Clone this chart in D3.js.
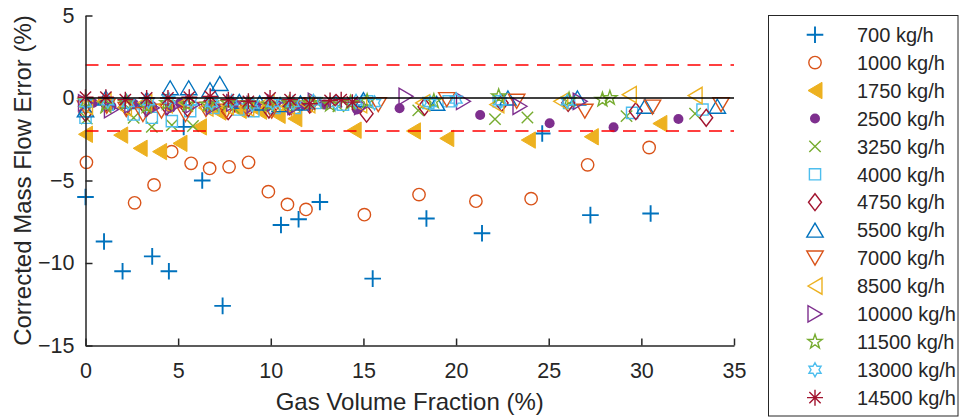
<!DOCTYPE html>
<html>
<head>
<meta charset="utf-8">
<script src="https://cdn.jsdelivr.net/npm/d3@7"></script>
<style>
  body { margin: 0; background: #fff; }
  svg { display: block; font-family: "Liberation Sans", Arial, sans-serif; }
</style>
</head>
<body>
<div id="chart"></div>
<script>
// [GVF %, corrected mass flow error %] for each flow rate
const s700 = [[0, -6.0], [1.0, -8.7], [2.0, -10.5], [3.6, -9.6], [4.5, -10.5], [5.3, -1.75], [6.3, -5.0],
  [7.4, -12.6], [10.55, -7.7], [11.5, -7.35], [12.65, -6.3], [15.5, -10.95], [18.4, -7.3], [21.4, -8.2],
  [24.65, -2.15], [27.25, -7.1], [30.5, -7.0]];
const s1000 = [[0.05, -3.9], [2.65, -6.35], [3.7, -5.27], [4.65, -3.25], [5.7, -3.96], [6.7, -4.27], [7.75, -4.17],
  [8.8, -3.9], [9.87, -5.68], [10.9, -6.45], [11.9, -6.75], [15.05, -7.07], [18.0, -5.85], [21.07, -6.25],
  [24.05, -6.1], [27.1, -4.05], [30.42, -3.0]];
const s1750 = [[0, -2.2], [1.9, -2.25], [2.95, -3.05], [4.0, -3.25], [5.1, -2.75], [6.15, -1.75], [7.2, -0.85],
  [8.3, -0.75], [9.4, -0.8], [10.4, -1.05], [11.3, -1.25], [14.5, -1.95], [17.7, -2.0], [19.5, -2.45],
  [23.9, -2.55], [27.3, -2.35], [31.0, -1.55]];
const s2500 = [[0.4, -0.3], [1.4, -0.5], [2.6, -0.35], [3.6, -0.5], [4.6, -0.6], [5.1, -0.3], [6.8, -0.5],
  [8.0, -0.4], [9.2, -0.45], [10.9, -0.4], [11.6, -0.5], [12.9, -0.4], [14.65, -0.7], [16.95, -0.62],
  [21.3, -1.03], [25.05, -1.53], [28.5, -1.78], [32.0, -1.27]];
const s3250 = [[0.07, -1.25], [1.1, -0.6], [2.6, -1.2], [3.58, -1.75], [4.66, -1.65], [5.8, -1.7], [6.9, -0.5],
  [8.0, -0.6], [9.1, -0.5], [10.2, -0.4], [11.3, -0.5], [12.5, -0.3], [13.65, -0.5], [17.96, -0.75],
  [22.1, -1.28], [23.85, -1.18], [29.2, -1.1], [32.9, -0.95]];
const s4000 = [[0, -1.2], [1.2, -0.4], [2.6, -1.0], [3.58, -1.2], [4.66, -1.4], [5.65, -0.8], [6.9, -0.6],
  [8.25, -0.7], [9.06, -0.8], [10.2, -0.6], [11.3, -0.6], [12.4, -0.3], [13.9, -0.4], [15.2, -0.2],
  [18.5, -0.3], [19.6, -0.2], [22.3, -0.2], [26.1, -0.3], [29.5, -0.9], [33.3, -0.7]];
const s4750 = [[0, -0.9], [1.1, -0.3], [2.2, -0.5], [3.3, -0.6], [4.4, -0.5], [5.5, -0.6], [6.6, -0.4],
  [7.7, -0.8], [8.8, -0.6], [9.9, -0.7], [11.0, -0.5], [12.1, -0.4], [15.17, -0.95], [18.3, -0.53],
  [22.46, -0.3], [26.05, -0.3], [29.7, -0.8], [33.5, -1.2]];
const s5500 = [[0, -0.72], [1.1, 0], [2.2, -0.2], [3.3, -0.1], [4.57, 0.62], [5.57, 0.62], [6.72, 0.5],
  [7.25, 0.88], [8.3, -0.2], [9.4, -0.3], [10.5, -0.4], [11.6, -0.3], [15.0, -0.1], [18.95, -0.32],
  [22.8, 0], [26.55, 0], [30.2, -0.5], [34.1, -0.5]];
const s7000 = [[0, -0.6], [1.15, -0.5], [2.2, -0.7], [3.1, -1.0], [4.1, -0.8], [5.4, -1.0], [6.5, -0.7],
  [7.6, -0.8], [8.7, -0.6], [10.05, -0.8], [11.1, -0.6], [12.2, -0.4], [15.8, -0.4], [19.5, -0.1],
  [23.27, -0.2], [26.95, -0.8], [30.6, -0.55], [34.3, -0.4]];
const s8500 = [[0, -0.5], [1.0, -0.2], [2.1, -0.6], [3.2, -0.3], [4.3, -0.4], [5.4, -0.3], [6.5, -0.6],
  [7.6, -0.5], [8.7, -0.6], [9.8, -0.3], [10.9, -0.5], [12.0, -0.4], [14.8, -0.4], [18.2, -0.3],
  [22.2, -0.4], [25.65, -0.2], [29.35, 0.2], [32.9, 0.15]];
const s10000 = [[0, -0.3], [1.4, -0.7], [2.5, -0.4], [3.6, -0.6], [4.7, -0.5], [5.8, -0.4], [6.9, -0.5],
  [8.0, -0.3], [9.1, -0.4], [10.2, -0.3], [11.3, -0.5], [12.4, -0.2], [14.9, -0.5], [17.3, 0.1],
  [20.4, -0.2], [23.45, -0.5], [26.7, -0.2]];
const s11500 = [[0, -0.2], [1.1, -0.4], [2.2, -0.3], [3.3, -0.5], [4.4, -0.3], [5.5, -0.4], [6.6, -0.4],
  [7.7, -0.3], [8.8, -0.3], [9.9, -0.4], [11.0, -0.3], [12.1, -0.3], [13.2, -0.4], [14.3, -0.3],
  [15.2, -0.2], [18.8, -0.2], [22.3, 0.1], [26.1, -0.1], [27.9, -0.1], [28.3, 0]];
const s13000 = [[0, -0.3], [1.2, -0.2], [2.3, -0.3], [3.4, -0.2], [4.5, -0.1], [5.7, -0.2], [6.8, -0.3],
  [7.9, -0.2], [9.0, -0.4], [10.1, -0.3], [11.2, -0.3], [12.3, -0.2], [13.5, -0.3], [14.6, -0.2],
  [15.6, -0.3], [18.6, -0.3], [20.0, -0.1], [22.4, -0.2], [26.0, -0.2]];
const s14500 = [[0, 0.05], [1.1, 0.05], [2.15, -0.1], [3.3, 0], [4.45, 0], [5.6, 0.05], [6.73, 0.1],
  [7.71, -0.1], [8.79, -0.2], [9.96, 0], [11.04, -0.1], [12.1, -0.35], [13.2, -0.15], [13.8, -0.1],
  [14.4, -0.25]];

const flowLabels = ['700 kg/h', '1000 kg/h', '1750 kg/h', '2500 kg/h', '3250 kg/h', '4000 kg/h', '4750 kg/h',
  '5500 kg/h', '7000 kg/h', '8500 kg/h', '10000 kg/h', '11500 kg/h', '13000 kg/h', '14500 kg/h'];
const xTicks = [0, 5, 10, 15, 20, 25, 30, 35];
const yTicks = [5, 0, -5, -10, -15];
const limitLines = [2, -2];

const colors = ['#0072BD', '#D95319', '#EDB120', '#7E2F8E', '#77AC30', '#4DBEEE', '#A2142F'];

const series = [
    {data: s700, marker: 'plus'},
    {data: s1000, marker: 'circle'},
    {data: s1750, marker: 'triLeftFilled'},
    {data: s2500, marker: 'dot'},
    {data: s3250, marker: 'cross'},
    {data: s4000, marker: 'square'},
    {data: s4750, marker: 'diamond'},
    {data: s5500, marker: 'triUp'},
    {data: s7000, marker: 'triDown'},
    {data: s8500, marker: 'triLeft'},
    {data: s10000, marker: 'triRight'},
    {data: s11500, marker: 'pentagram'},
    {data: s13000, marker: 'hexagram'},
    {data: s14500, marker: 'asterisk'}
].map((s, i) => Object.assign(s, {name: flowLabels[i], color: colors[i % colors.length]}));

function starPath(n, ro, ri) {
    let pts = [];
    for (let k = 0; k < 2 * n; k++) {
        let a = -Math.PI / 2 + k * Math.PI / n;
        let r = k % 2 === 0 ? ro : ri;
        pts.push([r * Math.cos(a), r * Math.sin(a)]);
    }
    return 'M' + pts.map(p => p[0].toFixed(2) + ',' + p[1].toFixed(2)).join('L') + 'Z';
}

function markerPath(type) {
    let a = 7, b = 8.2;   // triangle half-length along its direction, half-base
    switch (type) {
        case 'plus': return 'M-8.3,0H8.3M0,-8.3V8.3';
        case 'cross': return 'M-5.7,-5.7L5.7,5.7M-5.7,5.7L5.7,-5.7';
        case 'square': return 'M-5.6,-5.6H5.6V5.6H-5.6Z';
        case 'diamond': return 'M0,-8.5L6.5,0L0,8.5L-6.5,0Z';
        case 'triUp': return `M0,${-a}L${b},${a}L${-b},${a}Z`;
        case 'triDown': return `M0,${a}L${b},${-a}L${-b},${-a}Z`;
        case 'triLeft':
        case 'triLeftFilled': return `M${-a},0L${a},${-b}L${a},${b}Z`;
        case 'triRight': return `M${a},0L${-a},${-b}L${-a},${b}Z`;
        case 'pentagram': return starPath(5, 7.5, 2.95);
        case 'hexagram': return starPath(6, 7, 4.0);
        case 'asterisk': {
            let d = 8 * Math.SQRT1_2;
            return `M-8,0H8M0,-8V8M${-d},${-d}L${d},${d}M${-d},${d}L${d},${-d}`;
        }
    }
    return '';
}

function drawMarker(g, s) {
    let sw = s.marker === 'plus' ? 1.9 : 1.4;
    if (s.marker === 'circle') {
        g.append('circle').attr('r', 6.2).attr('fill', 'none')
            .attr('stroke', s.color).attr('stroke-width', sw);
    } else if (s.marker === 'dot') {
        g.append('circle').attr('r', 5).attr('fill', s.color);
    } else if (s.marker === 'triLeftFilled') {
        g.append('path').attr('d', markerPath(s.marker)).attr('fill', s.color)
            .attr('stroke', s.color).attr('stroke-width', 1);
    } else {
        g.append('path').attr('d', markerPath(s.marker)).attr('fill', 'none')
            .attr('stroke', s.color).attr('stroke-width', sw);
    }
}

const width = 959, height = 417;
const textColor = '#262626';

let svg = d3.select('#chart').append('svg')
    .attr('width', width)
    .attr('height', height);

let x = d3.scaleLinear().domain([0, 35]).range([85.5, 734]);
let y = d3.scaleLinear().domain([-15, 5]).range([345.5, 15.5]);

// markers
series.forEach(s => {
    let grp = svg.append('g').attr('class', 'series');
    s.data.forEach(d => {
        let g = grp.append('g').attr('transform', `translate(${x(d[0])},${y(d[1])})`);
        drawMarker(g, s);
    });
});

// +-2 % limits and zero line
svg.selectAll('line.limit')
    .data(limitLines)
    .enter().append('line')
    .attr('class', 'limit')
    .attr('x1', x(0)).attr('x2', x(35))
    .attr('y1', d => y(d)).attr('y2', d => y(d))
    .attr('stroke', '#FF0000')
    .attr('stroke-width', 1.5)
    .attr('stroke-dasharray', '13,8.5');

svg.append('line')
    .attr('x1', x(0)).attr('x2', x(35))
    .attr('y1', y(0)).attr('y2', y(0))
    .attr('stroke', '#000')
    .attr('stroke-width', 1.5);

// axes
let xAxis = svg.append('g')
    .attr('transform', `translate(0,${y(-15)})`)
    .call(d3.axisBottom(x).tickValues(xTicks).tickSizeInner(-7).tickSizeOuter(0).tickPadding(17));
let yAxis = svg.append('g')
    .attr('transform', `translate(${x(0)},0)`)
    .call(d3.axisLeft(y).tickValues(yTicks).tickSizeInner(-7).tickSizeOuter(0).tickPadding(11));

[xAxis, yAxis].forEach(ax => {
    ax.selectAll('path, line').attr('stroke', textColor).attr('stroke-width', 1.5);
    ax.selectAll('text').attr('fill', textColor)
        .style('font-family', '"Liberation Sans", Arial, sans-serif')
        .style('font-size', '21.5px');
});

// axis titles
svg.append('text')
    .attr('x', (x(0) + x(35)) / 2)
    .attr('y', 410)
    .attr('text-anchor', 'middle')
    .attr('fill', textColor)
    .style('font-size', '24px')
    .text('Gas Volume Fraction (%)');

svg.append('text')
    .attr('transform', `translate(30.5,${(y(5) + y(-15)) / 2}) rotate(-90)`)
    .attr('text-anchor', 'middle')
    .attr('fill', textColor)
    .style('font-size', '24px')
    .text('Corrected Mass Flow Error (%)');

// legend
let legend = svg.append('g');
legend.append('rect')
    .attr('x', 768.5).attr('y', 15.5)
    .attr('width', 189.5).attr('height', 400.5)
    .attr('fill', '#fff')
    .attr('stroke', textColor)
    .attr('stroke-width', 1);

series.forEach((s, i) => {
    let rowY = 34.7 + i * 27.92;
    let g = legend.append('g').attr('transform', `translate(815,${rowY})`);
    drawMarker(g, s);
    legend.append('text')
        .attr('x', 857)
        .attr('y', rowY)
        .attr('dy', '0.36em')
        .attr('fill', textColor)
        .style('font-size', '20px')
        .text(s.name);
});
</script>
</body>
</html>
